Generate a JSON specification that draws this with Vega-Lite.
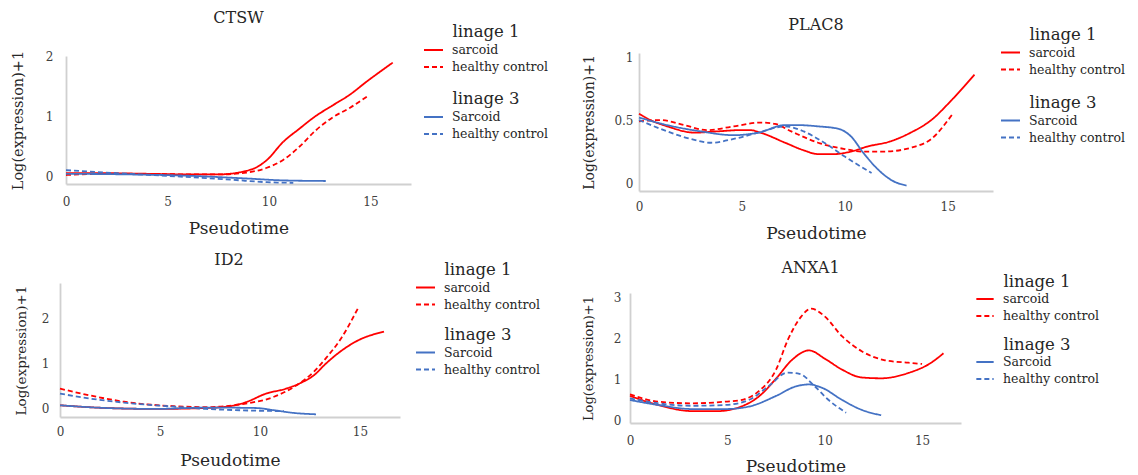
{
  "$schema": "https://vega.github.io/schema/vega-lite/v6.json",
  "background": "white",
  "padding": {"left": 10, "top": 10, "right": 0, "bottom": 0},
  "config": {
    "view": {"stroke": null},
    "axis": {"domainColor": "#d0d0d0", "domainWidth": 1.8, "ticks": false, "grid": false, "labelFont": "DejaVu Serif", "labelFontSize": 12, "labelColor": "#404040", "titleFont": "DejaVu Serif", "titleFontWeight": "normal", "titleColor": "#262626", "labelFlush": false, "labelOverlap": false},
    "axisX": {"titleFontSize": 17},
    "legend": {"titleFont": "DejaVu Serif", "titleFontSize": 16.5, "titleFontWeight": "normal", "titleColor": "#262626", "titleAnchor": "middle", "labelFont": "DejaVu Serif", "labelFontSize": 12.5, "labelColor": "#262626", "symbolType": "stroke", "symbolSize": 361, "symbolStrokeWidth": 2.5, "rowPadding": -3, "titlePadding": -1, "labelOffset": 8, "padding": 0},
    "title": {"font": "DejaVu Serif", "fontSize": 16, "fontWeight": "normal", "color": "#262626", "anchor": "middle"},
    "line": {"interpolate": "monotone", "strokeWidth": 1.8}
  },
  "datasets": {
    "curves": [
      {"gene":"CTSW","lineage":"linage 1","condition":"sarcoid","pseudotime":0,"value":0.05},
      {"gene":"CTSW","lineage":"linage 1","condition":"sarcoid","pseudotime":2,"value":0.05},
      {"gene":"CTSW","lineage":"linage 1","condition":"sarcoid","pseudotime":4,"value":0.04},
      {"gene":"CTSW","lineage":"linage 1","condition":"sarcoid","pseudotime":6,"value":0.03},
      {"gene":"CTSW","lineage":"linage 1","condition":"sarcoid","pseudotime":7.5,"value":0.03},
      {"gene":"CTSW","lineage":"linage 1","condition":"sarcoid","pseudotime":8.9,"value":0.09},
      {"gene":"CTSW","lineage":"linage 1","condition":"sarcoid","pseudotime":9.4,"value":0.15},
      {"gene":"CTSW","lineage":"linage 1","condition":"sarcoid","pseudotime":9.9,"value":0.27},
      {"gene":"CTSW","lineage":"linage 1","condition":"sarcoid","pseudotime":10.7,"value":0.57},
      {"gene":"CTSW","lineage":"linage 1","condition":"sarcoid","pseudotime":11.5,"value":0.79},
      {"gene":"CTSW","lineage":"linage 1","condition":"sarcoid","pseudotime":12.3,"value":1.0},
      {"gene":"CTSW","lineage":"linage 1","condition":"sarcoid","pseudotime":13.1,"value":1.17},
      {"gene":"CTSW","lineage":"linage 1","condition":"sarcoid","pseudotime":14.0,"value":1.36},
      {"gene":"CTSW","lineage":"linage 1","condition":"sarcoid","pseudotime":14.8,"value":1.57},
      {"gene":"CTSW","lineage":"linage 1","condition":"sarcoid","pseudotime":16.1,"value":1.89},
      {"gene":"CTSW","lineage":"linage 1","condition":"healthy control","pseudotime":0,"value":0.02},
      {"gene":"CTSW","lineage":"linage 1","condition":"healthy control","pseudotime":2,"value":0.04},
      {"gene":"CTSW","lineage":"linage 1","condition":"healthy control","pseudotime":4,"value":0.04},
      {"gene":"CTSW","lineage":"linage 1","condition":"healthy control","pseudotime":6,"value":0.03},
      {"gene":"CTSW","lineage":"linage 1","condition":"healthy control","pseudotime":7.5,"value":0.03},
      {"gene":"CTSW","lineage":"linage 1","condition":"healthy control","pseudotime":8.9,"value":0.06},
      {"gene":"CTSW","lineage":"linage 1","condition":"healthy control","pseudotime":9.9,"value":0.14},
      {"gene":"CTSW","lineage":"linage 1","condition":"healthy control","pseudotime":10.7,"value":0.27},
      {"gene":"CTSW","lineage":"linage 1","condition":"healthy control","pseudotime":11.5,"value":0.49},
      {"gene":"CTSW","lineage":"linage 1","condition":"healthy control","pseudotime":12.3,"value":0.76},
      {"gene":"CTSW","lineage":"linage 1","condition":"healthy control","pseudotime":13.1,"value":0.97},
      {"gene":"CTSW","lineage":"linage 1","condition":"healthy control","pseudotime":14.0,"value":1.14},
      {"gene":"CTSW","lineage":"linage 1","condition":"healthy control","pseudotime":14.9,"value":1.34},
      {"gene":"CTSW","lineage":"linage 3","condition":"Sarcoid","pseudotime":0,"value":0.04},
      {"gene":"CTSW","lineage":"linage 3","condition":"Sarcoid","pseudotime":3,"value":0.03},
      {"gene":"CTSW","lineage":"linage 3","condition":"Sarcoid","pseudotime":5.8,"value":0.01},
      {"gene":"CTSW","lineage":"linage 3","condition":"Sarcoid","pseudotime":9.0,"value":-0.04},
      {"gene":"CTSW","lineage":"linage 3","condition":"Sarcoid","pseudotime":10.7,"value":-0.07},
      {"gene":"CTSW","lineage":"linage 3","condition":"Sarcoid","pseudotime":12.8,"value":-0.08},
      {"gene":"CTSW","lineage":"linage 3","condition":"healthy control","pseudotime":0,"value":0.1},
      {"gene":"CTSW","lineage":"linage 3","condition":"healthy control","pseudotime":2.5,"value":0.05},
      {"gene":"CTSW","lineage":"linage 3","condition":"healthy control","pseudotime":5.8,"value":-0.01},
      {"gene":"CTSW","lineage":"linage 3","condition":"healthy control","pseudotime":8.2,"value":-0.06},
      {"gene":"CTSW","lineage":"linage 3","condition":"healthy control","pseudotime":9.9,"value":-0.1},
      {"gene":"CTSW","lineage":"linage 3","condition":"healthy control","pseudotime":11.2,"value":-0.11},

      {"gene":"PLAC8","lineage":"linage 1","condition":"sarcoid","pseudotime":0,"value":0.55},
      {"gene":"PLAC8","lineage":"linage 1","condition":"sarcoid","pseudotime":0.55,"value":0.5},
      {"gene":"PLAC8","lineage":"linage 1","condition":"sarcoid","pseudotime":1.37,"value":0.45},
      {"gene":"PLAC8","lineage":"linage 1","condition":"sarcoid","pseudotime":2.7,"value":0.4},
      {"gene":"PLAC8","lineage":"linage 1","condition":"sarcoid","pseudotime":3.8,"value":0.41},
      {"gene":"PLAC8","lineage":"linage 1","condition":"sarcoid","pseudotime":4.9,"value":0.42},
      {"gene":"PLAC8","lineage":"linage 1","condition":"sarcoid","pseudotime":5.4,"value":0.42},
      {"gene":"PLAC8","lineage":"linage 1","condition":"sarcoid","pseudotime":5.9,"value":0.4},
      {"gene":"PLAC8","lineage":"linage 1","condition":"sarcoid","pseudotime":7.1,"value":0.32},
      {"gene":"PLAC8","lineage":"linage 1","condition":"sarcoid","pseudotime":8.0,"value":0.26},
      {"gene":"PLAC8","lineage":"linage 1","condition":"sarcoid","pseudotime":8.7,"value":0.23},
      {"gene":"PLAC8","lineage":"linage 1","condition":"sarcoid","pseudotime":9.5,"value":0.23},
      {"gene":"PLAC8","lineage":"linage 1","condition":"sarcoid","pseudotime":10.3,"value":0.25},
      {"gene":"PLAC8","lineage":"linage 1","condition":"sarcoid","pseudotime":11.1,"value":0.29},
      {"gene":"PLAC8","lineage":"linage 1","condition":"sarcoid","pseudotime":12.2,"value":0.33},
      {"gene":"PLAC8","lineage":"linage 1","condition":"sarcoid","pseudotime":13.2,"value":0.4},
      {"gene":"PLAC8","lineage":"linage 1","condition":"sarcoid","pseudotime":14.2,"value":0.5},
      {"gene":"PLAC8","lineage":"linage 1","condition":"sarcoid","pseudotime":15.2,"value":0.66},
      {"gene":"PLAC8","lineage":"linage 1","condition":"sarcoid","pseudotime":16.3,"value":0.86},
      {"gene":"PLAC8","lineage":"linage 1","condition":"healthy control","pseudotime":0,"value":0.49},
      {"gene":"PLAC8","lineage":"linage 1","condition":"healthy control","pseudotime":1.04,"value":0.5},
      {"gene":"PLAC8","lineage":"linage 1","condition":"healthy control","pseudotime":2.2,"value":0.46},
      {"gene":"PLAC8","lineage":"linage 1","condition":"healthy control","pseudotime":3.3,"value":0.42},
      {"gene":"PLAC8","lineage":"linage 1","condition":"healthy control","pseudotime":4.6,"value":0.45},
      {"gene":"PLAC8","lineage":"linage 1","condition":"healthy control","pseudotime":5.9,"value":0.48},
      {"gene":"PLAC8","lineage":"linage 1","condition":"healthy control","pseudotime":6.6,"value":0.47},
      {"gene":"PLAC8","lineage":"linage 1","condition":"healthy control","pseudotime":7.4,"value":0.41},
      {"gene":"PLAC8","lineage":"linage 1","condition":"healthy control","pseudotime":8.7,"value":0.32},
      {"gene":"PLAC8","lineage":"linage 1","condition":"healthy control","pseudotime":10.0,"value":0.27},
      {"gene":"PLAC8","lineage":"linage 1","condition":"healthy control","pseudotime":10.9,"value":0.25},
      {"gene":"PLAC8","lineage":"linage 1","condition":"healthy control","pseudotime":11.9,"value":0.25},
      {"gene":"PLAC8","lineage":"linage 1","condition":"healthy control","pseudotime":13.2,"value":0.28},
      {"gene":"PLAC8","lineage":"linage 1","condition":"healthy control","pseudotime":14.2,"value":0.35},
      {"gene":"PLAC8","lineage":"linage 1","condition":"healthy control","pseudotime":15.2,"value":0.54},
      {"gene":"PLAC8","lineage":"linage 3","condition":"Sarcoid","pseudotime":0,"value":0.52},
      {"gene":"PLAC8","lineage":"linage 3","condition":"Sarcoid","pseudotime":1.37,"value":0.46},
      {"gene":"PLAC8","lineage":"linage 3","condition":"Sarcoid","pseudotime":3.0,"value":0.41},
      {"gene":"PLAC8","lineage":"linage 3","condition":"Sarcoid","pseudotime":4.6,"value":0.38},
      {"gene":"PLAC8","lineage":"linage 3","condition":"Sarcoid","pseudotime":5.8,"value":0.4},
      {"gene":"PLAC8","lineage":"linage 3","condition":"Sarcoid","pseudotime":7.1,"value":0.46},
      {"gene":"PLAC8","lineage":"linage 3","condition":"Sarcoid","pseudotime":7.7,"value":0.46},
      {"gene":"PLAC8","lineage":"linage 3","condition":"Sarcoid","pseudotime":8.7,"value":0.45},
      {"gene":"PLAC8","lineage":"linage 3","condition":"Sarcoid","pseudotime":9.7,"value":0.43},
      {"gene":"PLAC8","lineage":"linage 3","condition":"Sarcoid","pseudotime":10.3,"value":0.37},
      {"gene":"PLAC8","lineage":"linage 3","condition":"Sarcoid","pseudotime":10.9,"value":0.24},
      {"gene":"PLAC8","lineage":"linage 3","condition":"Sarcoid","pseudotime":11.6,"value":0.11},
      {"gene":"PLAC8","lineage":"linage 3","condition":"Sarcoid","pseudotime":12.3,"value":0.02},
      {"gene":"PLAC8","lineage":"linage 3","condition":"Sarcoid","pseudotime":13.0,"value":-0.02},
      {"gene":"PLAC8","lineage":"linage 3","condition":"healthy control","pseudotime":0,"value":0.5},
      {"gene":"PLAC8","lineage":"linage 3","condition":"healthy control","pseudotime":1.37,"value":0.41},
      {"gene":"PLAC8","lineage":"linage 3","condition":"healthy control","pseudotime":2.5,"value":0.35},
      {"gene":"PLAC8","lineage":"linage 3","condition":"healthy control","pseudotime":3.5,"value":0.32},
      {"gene":"PLAC8","lineage":"linage 3","condition":"healthy control","pseudotime":4.6,"value":0.35},
      {"gene":"PLAC8","lineage":"linage 3","condition":"healthy control","pseudotime":5.8,"value":0.4},
      {"gene":"PLAC8","lineage":"linage 3","condition":"healthy control","pseudotime":7.1,"value":0.45},
      {"gene":"PLAC8","lineage":"linage 3","condition":"healthy control","pseudotime":8.0,"value":0.41},
      {"gene":"PLAC8","lineage":"linage 3","condition":"healthy control","pseudotime":9.0,"value":0.32},
      {"gene":"PLAC8","lineage":"linage 3","condition":"healthy control","pseudotime":10.0,"value":0.21},
      {"gene":"PLAC8","lineage":"linage 3","condition":"healthy control","pseudotime":11.3,"value":0.08},

      {"gene":"ID2","lineage":"linage 1","condition":"sarcoid","pseudotime":0,"value":0.06},
      {"gene":"ID2","lineage":"linage 1","condition":"sarcoid","pseudotime":2.3,"value":0.0},
      {"gene":"ID2","lineage":"linage 1","condition":"sarcoid","pseudotime":4.8,"value":-0.02},
      {"gene":"ID2","lineage":"linage 1","condition":"sarcoid","pseudotime":7.3,"value":0.0},
      {"gene":"ID2","lineage":"linage 1","condition":"sarcoid","pseudotime":8.5,"value":0.04},
      {"gene":"ID2","lineage":"linage 1","condition":"sarcoid","pseudotime":9.3,"value":0.13},
      {"gene":"ID2","lineage":"linage 1","condition":"sarcoid","pseudotime":10.3,"value":0.32},
      {"gene":"ID2","lineage":"linage 1","condition":"sarcoid","pseudotime":11.3,"value":0.43},
      {"gene":"ID2","lineage":"linage 1","condition":"sarcoid","pseudotime":12.0,"value":0.55},
      {"gene":"ID2","lineage":"linage 1","condition":"sarcoid","pseudotime":12.7,"value":0.73},
      {"gene":"ID2","lineage":"linage 1","condition":"sarcoid","pseudotime":13.3,"value":0.99},
      {"gene":"ID2","lineage":"linage 1","condition":"sarcoid","pseudotime":14.0,"value":1.25},
      {"gene":"ID2","lineage":"linage 1","condition":"sarcoid","pseudotime":14.8,"value":1.48},
      {"gene":"ID2","lineage":"linage 1","condition":"sarcoid","pseudotime":16.2,"value":1.7},
      {"gene":"ID2","lineage":"linage 1","condition":"healthy control","pseudotime":0,"value":0.43},
      {"gene":"ID2","lineage":"linage 1","condition":"healthy control","pseudotime":1.5,"value":0.28},
      {"gene":"ID2","lineage":"linage 1","condition":"healthy control","pseudotime":3.2,"value":0.14},
      {"gene":"ID2","lineage":"linage 1","condition":"healthy control","pseudotime":5.7,"value":0.04},
      {"gene":"ID2","lineage":"linage 1","condition":"healthy control","pseudotime":7.3,"value":0.02},
      {"gene":"ID2","lineage":"linage 1","condition":"healthy control","pseudotime":9.0,"value":0.08},
      {"gene":"ID2","lineage":"linage 1","condition":"healthy control","pseudotime":10.7,"value":0.25},
      {"gene":"ID2","lineage":"linage 1","condition":"healthy control","pseudotime":11.7,"value":0.47},
      {"gene":"ID2","lineage":"linage 1","condition":"healthy control","pseudotime":12.7,"value":0.81},
      {"gene":"ID2","lineage":"linage 1","condition":"healthy control","pseudotime":13.3,"value":1.11},
      {"gene":"ID2","lineage":"linage 1","condition":"healthy control","pseudotime":14.0,"value":1.51},
      {"gene":"ID2","lineage":"linage 1","condition":"healthy control","pseudotime":14.9,"value":2.22},
      {"gene":"ID2","lineage":"linage 3","condition":"Sarcoid","pseudotime":0,"value":0.06},
      {"gene":"ID2","lineage":"linage 3","condition":"Sarcoid","pseudotime":2.3,"value":0.0},
      {"gene":"ID2","lineage":"linage 3","condition":"Sarcoid","pseudotime":4.8,"value":-0.02},
      {"gene":"ID2","lineage":"linage 3","condition":"Sarcoid","pseudotime":7.3,"value":0.01},
      {"gene":"ID2","lineage":"linage 3","condition":"Sarcoid","pseudotime":9.8,"value":0.0},
      {"gene":"ID2","lineage":"linage 3","condition":"Sarcoid","pseudotime":10.7,"value":-0.05},
      {"gene":"ID2","lineage":"linage 3","condition":"Sarcoid","pseudotime":11.7,"value":-0.11},
      {"gene":"ID2","lineage":"linage 3","condition":"Sarcoid","pseudotime":12.8,"value":-0.14},
      {"gene":"ID2","lineage":"linage 3","condition":"healthy control","pseudotime":0,"value":0.32},
      {"gene":"ID2","lineage":"linage 3","condition":"healthy control","pseudotime":1.5,"value":0.21},
      {"gene":"ID2","lineage":"linage 3","condition":"healthy control","pseudotime":3.2,"value":0.12},
      {"gene":"ID2","lineage":"linage 3","condition":"healthy control","pseudotime":5.7,"value":0.03},
      {"gene":"ID2","lineage":"linage 3","condition":"healthy control","pseudotime":7.3,"value":-0.02},
      {"gene":"ID2","lineage":"linage 3","condition":"healthy control","pseudotime":9.0,"value":-0.05},
      {"gene":"ID2","lineage":"linage 3","condition":"healthy control","pseudotime":11.2,"value":-0.07},

      {"gene":"ANXA1","lineage":"linage 1","condition":"sarcoid","pseudotime":0,"value":0.61},
      {"gene":"ANXA1","lineage":"linage 1","condition":"sarcoid","pseudotime":1.44,"value":0.39},
      {"gene":"ANXA1","lineage":"linage 1","condition":"sarcoid","pseudotime":3.2,"value":0.24},
      {"gene":"ANXA1","lineage":"linage 1","condition":"sarcoid","pseudotime":4.5,"value":0.24},
      {"gene":"ANXA1","lineage":"linage 1","condition":"sarcoid","pseudotime":5.7,"value":0.35},
      {"gene":"ANXA1","lineage":"linage 1","condition":"sarcoid","pseudotime":6.6,"value":0.59},
      {"gene":"ANXA1","lineage":"linage 1","condition":"sarcoid","pseudotime":7.5,"value":1.03},
      {"gene":"ANXA1","lineage":"linage 1","condition":"sarcoid","pseudotime":8.3,"value":1.48},
      {"gene":"ANXA1","lineage":"linage 1","condition":"sarcoid","pseudotime":9.2,"value":1.72},
      {"gene":"ANXA1","lineage":"linage 1","condition":"sarcoid","pseudotime":10.0,"value":1.52},
      {"gene":"ANXA1","lineage":"linage 1","condition":"sarcoid","pseudotime":10.9,"value":1.25},
      {"gene":"ANXA1","lineage":"linage 1","condition":"sarcoid","pseudotime":11.9,"value":1.06},
      {"gene":"ANXA1","lineage":"linage 1","condition":"sarcoid","pseudotime":12.9,"value":1.04},
      {"gene":"ANXA1","lineage":"linage 1","condition":"sarcoid","pseudotime":14.3,"value":1.17},
      {"gene":"ANXA1","lineage":"linage 1","condition":"sarcoid","pseudotime":15.4,"value":1.4},
      {"gene":"ANXA1","lineage":"linage 1","condition":"sarcoid","pseudotime":16.1,"value":1.65},
      {"gene":"ANXA1","lineage":"linage 1","condition":"healthy control","pseudotime":0,"value":0.65},
      {"gene":"ANXA1","lineage":"linage 1","condition":"healthy control","pseudotime":1.44,"value":0.47},
      {"gene":"ANXA1","lineage":"linage 1","condition":"healthy control","pseudotime":3.2,"value":0.43},
      {"gene":"ANXA1","lineage":"linage 1","condition":"healthy control","pseudotime":4.9,"value":0.47},
      {"gene":"ANXA1","lineage":"linage 1","condition":"healthy control","pseudotime":5.7,"value":0.51},
      {"gene":"ANXA1","lineage":"linage 1","condition":"healthy control","pseudotime":6.6,"value":0.72},
      {"gene":"ANXA1","lineage":"linage 1","condition":"healthy control","pseudotime":7.5,"value":1.25},
      {"gene":"ANXA1","lineage":"linage 1","condition":"healthy control","pseudotime":8.1,"value":1.97},
      {"gene":"ANXA1","lineage":"linage 1","condition":"healthy control","pseudotime":8.8,"value":2.55},
      {"gene":"ANXA1","lineage":"linage 1","condition":"healthy control","pseudotime":9.3,"value":2.74},
      {"gene":"ANXA1","lineage":"linage 1","condition":"healthy control","pseudotime":10.0,"value":2.55},
      {"gene":"ANXA1","lineage":"linage 1","condition":"healthy control","pseudotime":10.9,"value":2.06},
      {"gene":"ANXA1","lineage":"linage 1","condition":"healthy control","pseudotime":11.9,"value":1.7},
      {"gene":"ANXA1","lineage":"linage 1","condition":"healthy control","pseudotime":13.1,"value":1.48},
      {"gene":"ANXA1","lineage":"linage 1","condition":"healthy control","pseudotime":14.3,"value":1.42},
      {"gene":"ANXA1","lineage":"linage 1","condition":"healthy control","pseudotime":15.0,"value":1.39},
      {"gene":"ANXA1","lineage":"linage 3","condition":"Sarcoid","pseudotime":0,"value":0.51},
      {"gene":"ANXA1","lineage":"linage 3","condition":"Sarcoid","pseudotime":1.44,"value":0.39},
      {"gene":"ANXA1","lineage":"linage 3","condition":"Sarcoid","pseudotime":3.2,"value":0.29},
      {"gene":"ANXA1","lineage":"linage 3","condition":"Sarcoid","pseudotime":4.9,"value":0.29},
      {"gene":"ANXA1","lineage":"linage 3","condition":"Sarcoid","pseudotime":6.1,"value":0.35},
      {"gene":"ANXA1","lineage":"linage 3","condition":"Sarcoid","pseudotime":7.5,"value":0.61},
      {"gene":"ANXA1","lineage":"linage 3","condition":"Sarcoid","pseudotime":8.5,"value":0.84},
      {"gene":"ANXA1","lineage":"linage 3","condition":"Sarcoid","pseudotime":9.2,"value":0.89},
      {"gene":"ANXA1","lineage":"linage 3","condition":"Sarcoid","pseudotime":9.9,"value":0.8},
      {"gene":"ANXA1","lineage":"linage 3","condition":"Sarcoid","pseudotime":10.9,"value":0.51},
      {"gene":"ANXA1","lineage":"linage 3","condition":"Sarcoid","pseudotime":11.9,"value":0.27},
      {"gene":"ANXA1","lineage":"linage 3","condition":"Sarcoid","pseudotime":12.9,"value":0.14},
      {"gene":"ANXA1","lineage":"linage 3","condition":"healthy control","pseudotime":0,"value":0.55},
      {"gene":"ANXA1","lineage":"linage 3","condition":"healthy control","pseudotime":1.44,"value":0.43},
      {"gene":"ANXA1","lineage":"linage 3","condition":"healthy control","pseudotime":3.2,"value":0.37},
      {"gene":"ANXA1","lineage":"linage 3","condition":"healthy control","pseudotime":4.9,"value":0.39},
      {"gene":"ANXA1","lineage":"linage 3","condition":"healthy control","pseudotime":6.1,"value":0.51},
      {"gene":"ANXA1","lineage":"linage 3","condition":"healthy control","pseudotime":7.1,"value":0.84},
      {"gene":"ANXA1","lineage":"linage 3","condition":"healthy control","pseudotime":8.1,"value":1.18},
      {"gene":"ANXA1","lineage":"linage 3","condition":"healthy control","pseudotime":8.7,"value":1.15},
      {"gene":"ANXA1","lineage":"linage 3","condition":"healthy control","pseudotime":9.5,"value":0.84},
      {"gene":"ANXA1","lineage":"linage 3","condition":"healthy control","pseudotime":10.2,"value":0.51},
      {"gene":"ANXA1","lineage":"linage 3","condition":"healthy control","pseudotime":11.1,"value":0.2}
    ]
  },
  "data": {"name": "curves"},
  "spacing": 33,
  "hconcat": [
    {
      "spacing": 16,
      "vconcat": [
        {
          "width": 345, "height": 128,
          "title": {"text": "CTSW", "offset": -2},
          "transform": [{"filter": "datum.gene === 'CTSW'"}],
          "encoding": {
            "x": {"field": "pseudotime", "type": "quantitative", "scale": {"domain": [0, 17], "nice": false, "zero": false}, "axis": {"values": [0, 5, 10, 15], "title": "Pseudotime", "labelPadding": 12, "titlePadding": 13}},
            "y": {"field": "value", "type": "quantitative", "scale": {"domain": [-0.13, 2], "nice": false, "zero": false}, "axis": {"values": [0, 1, 2], "title": "Log(expression)+1", "titleFontSize": 14.5, "labelPadding": 13, "titlePadding": 20}}
          },
          "layer": [
            {"transform": [{"filter": "datum.lineage === 'linage 1'"}], "mark": "line",
             "encoding": {
               "color": {"field": "condition", "type": "nominal", "scale": {"domain": ["sarcoid", "healthy control"], "range": ["#ff0000", "#ff0000"]}, "legend": {"title": "linage 1", "orient": "none", "legendX": 357, "legendY": -32}},
               "strokeDash": {"field": "condition", "type": "nominal", "scale": {"domain": ["sarcoid", "healthy control"], "range": [[1, 0], [5, 3]]}, "legend": {"title": "linage 1", "orient": "none", "legendX": 357, "legendY": -32}}
             }},
            {"transform": [{"filter": "datum.lineage === 'linage 3'"}], "mark": "line",
             "encoding": {
               "color": {"field": "condition", "type": "nominal", "scale": {"domain": ["Sarcoid", "healthy control"], "range": ["#4472c4", "#4472c4"]}, "legend": {"title": "linage 3", "orient": "none", "legendX": 357, "legendY": 35}},
               "strokeDash": {"field": "condition", "type": "nominal", "scale": {"domain": ["Sarcoid", "healthy control"], "range": [[1, 0], [5, 3]]}, "legend": {"title": "linage 3", "orient": "none", "legendX": 357, "legendY": 35}}
             }}
          ],
          "resolve": {"scale": {"color": "independent", "strokeDash": "independent"}, "legend": {"color": "independent", "strokeDash": "independent"}}
        },
        {
          "width": 340, "height": 134,
          "title": {"text": "ID2", "offset": -6.5, "dx": -7},
          "transform": [{"filter": "datum.gene === 'ID2'"}],
          "encoding": {
            "x": {"field": "pseudotime", "type": "quantitative", "scale": {"domain": [0, 17], "range": [-6, 334], "nice": false, "zero": false}, "axis": {"values": [0, 5, 10, 15], "title": "Pseudotime", "labelPadding": 9, "titlePadding": 15}},
            "y": {"field": "value", "type": "quantitative", "scale": {"domain": [-0.2, 2.78], "nice": false, "zero": false}, "axis": {"values": [0, 1, 2], "title": "Log(expression)+1", "titleFontSize": 13.5, "offset": 6, "labelPadding": 11, "titlePadding": 13}}
          },
          "layer": [
            {"transform": [{"filter": "datum.lineage === 'linage 1'"}], "mark": "line",
             "encoding": {
               "color": {"field": "condition", "type": "nominal", "scale": {"domain": ["sarcoid", "healthy control"], "range": ["#ff0000", "#ff0000"]}, "legend": {"title": "linage 1", "orient": "none", "legendX": 349, "legendY": -21.5}},
               "strokeDash": {"field": "condition", "type": "nominal", "scale": {"domain": ["sarcoid", "healthy control"], "range": [[1, 0], [5, 3]]}, "legend": {"title": "linage 1", "orient": "none", "legendX": 349, "legendY": -21.5}}
             }},
            {"transform": [{"filter": "datum.lineage === 'linage 3'"}], "mark": "line",
             "encoding": {
               "color": {"field": "condition", "type": "nominal", "scale": {"domain": ["Sarcoid", "healthy control"], "range": ["#4472c4", "#4472c4"]}, "legend": {"title": "linage 3", "orient": "none", "legendX": 349, "legendY": 43.5}},
               "strokeDash": {"field": "condition", "type": "nominal", "scale": {"domain": ["Sarcoid", "healthy control"], "range": [[1, 0], [5, 3]]}, "legend": {"title": "linage 3", "orient": "none", "legendX": 349, "legendY": 43.5}}
             }}
          ],
          "resolve": {"scale": {"color": "independent", "strokeDash": "independent"}, "legend": {"color": "independent", "strokeDash": "independent"}}
        }
      ]
    },
    {
      "spacing": 19,
      "vconcat": [
        {
          "width": 354, "height": 135,
          "title": {"text": "PLAC8", "offset": -6.5},
          "transform": [{"filter": "datum.gene === 'PLAC8'"}],
          "encoding": {
            "x": {"field": "pseudotime", "type": "quantitative", "scale": {"domain": [0, 17.2], "nice": false, "zero": false}, "axis": {"values": [0, 5, 10, 15], "title": "Pseudotime", "labelPadding": 10, "titlePadding": 13}},
            "y": {"field": "value", "type": "quantitative", "scale": {"domain": [-0.063, 1.032], "range": [135, -3], "nice": false, "zero": false}, "axis": {"values": [0, 0.5, 1], "format": "~g", "title": "Log(expression)+1", "titleFontSize": 14, "labelPadding": 6, "titlePadding": 17}}
          },
          "layer": [
            {"transform": [{"filter": "datum.lineage === 'linage 1'"}], "mark": "line",
             "encoding": {
               "color": {"field": "condition", "type": "nominal", "scale": {"domain": ["sarcoid", "healthy control"], "range": ["#ff0000", "#ff0000"]}, "legend": {"title": "linage 1", "orient": "none", "legendX": 361, "legendY": -29.5}},
               "strokeDash": {"field": "condition", "type": "nominal", "scale": {"domain": ["sarcoid", "healthy control"], "range": [[1, 0], [5, 3]]}, "legend": {"title": "linage 1", "orient": "none", "legendX": 361, "legendY": -29.5}}
             }},
            {"transform": [{"filter": "datum.lineage === 'linage 3'"}], "mark": "line",
             "encoding": {
               "color": {"field": "condition", "type": "nominal", "scale": {"domain": ["Sarcoid", "healthy control"], "range": ["#4472c4", "#4472c4"]}, "legend": {"title": "linage 3", "orient": "none", "legendX": 361, "legendY": 38.5}},
               "strokeDash": {"field": "condition", "type": "nominal", "scale": {"domain": ["Sarcoid", "healthy control"], "range": [[1, 0], [5, 3]]}, "legend": {"title": "linage 3", "orient": "none", "legendX": 361, "legendY": 38.5}}
             }}
          ],
          "resolve": {"scale": {"color": "independent", "strokeDash": "independent"}, "legend": {"color": "independent", "strokeDash": "independent"}}
        },
        {
          "width": 331, "height": 130,
          "title": {"text": "ANXA1", "offset": -2.5, "dx": 6},
          "transform": [{"filter": "datum.gene === 'ANXA1'"}],
          "encoding": {
            "x": {"field": "pseudotime", "type": "quantitative", "scale": {"domain": [0, 17], "range": [-9, 322], "nice": false, "zero": false}, "axis": {"values": [0, 5, 10, 15], "title": "Pseudotime", "labelPadding": 12, "titlePadding": 12}},
            "y": {"field": "value", "type": "quantitative", "scale": {"domain": [-0.05, 3.12], "nice": false, "zero": false}, "axis": {"values": [0, 1, 2, 3], "title": "Log(expression)+1", "titleFontSize": 13, "offset": 9, "labelPadding": 9, "titlePadding": 18}}
          },
          "layer": [
            {"transform": [{"filter": "datum.lineage === 'linage 1'"}], "mark": "line",
             "encoding": {
               "color": {"field": "condition", "type": "nominal", "scale": {"domain": ["sarcoid", "healthy control"], "range": ["#ff0000", "#ff0000"]}, "legend": {"title": "linage 1", "orient": "none", "legendX": 336, "legendY": -19.5, "symbolSize": 300, "rowPadding": -4.5}},
               "strokeDash": {"field": "condition", "type": "nominal", "scale": {"domain": ["sarcoid", "healthy control"], "range": [[1, 0], [5, 3]]}, "legend": {"title": "linage 1", "orient": "none", "legendX": 336, "legendY": -19.5, "symbolSize": 300, "rowPadding": -4.5}}
             }},
            {"transform": [{"filter": "datum.lineage === 'linage 3'"}], "mark": "line",
             "encoding": {
               "color": {"field": "condition", "type": "nominal", "scale": {"domain": ["Sarcoid", "healthy control"], "range": ["#4472c4", "#4472c4"]}, "legend": {"title": "linage 3", "orient": "none", "legendX": 336, "legendY": 43.5, "symbolSize": 300, "rowPadding": -4.5}},
               "strokeDash": {"field": "condition", "type": "nominal", "scale": {"domain": ["Sarcoid", "healthy control"], "range": [[1, 0], [5, 3]]}, "legend": {"title": "linage 3", "orient": "none", "legendX": 336, "legendY": 43.5, "symbolSize": 300, "rowPadding": -4.5}}
             }}
          ],
          "resolve": {"scale": {"color": "independent", "strokeDash": "independent"}, "legend": {"color": "independent", "strokeDash": "independent"}}
        }
      ]
    }
  ]
}
